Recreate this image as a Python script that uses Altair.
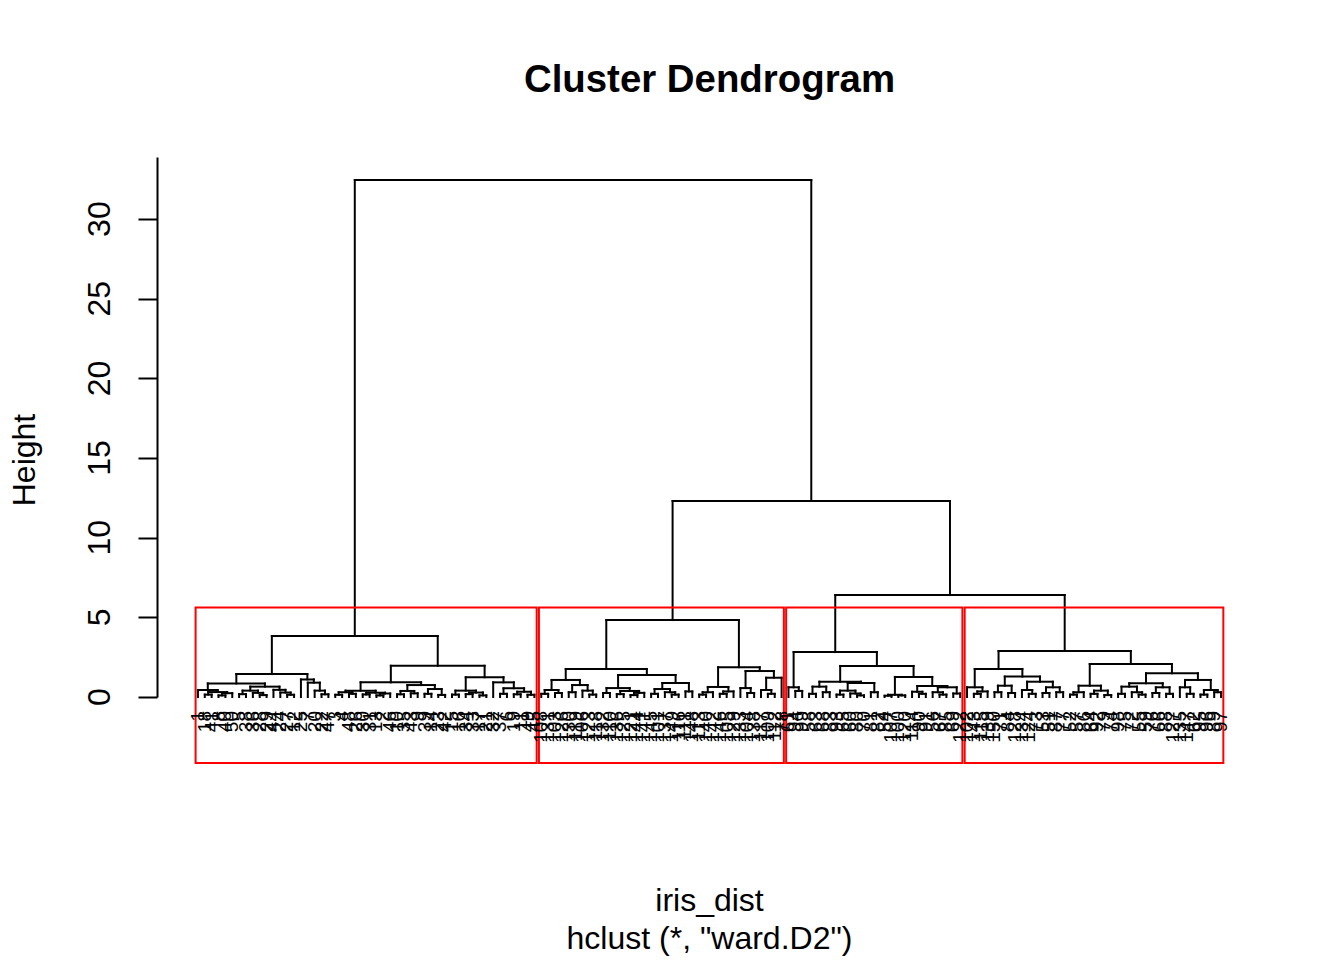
import altair as alt
import pandas as pd

# ---------------- data ----------------
# Each cluster subtree in a compact "(left,right):height" notation.
# Leaves are the left-to-right leaf positions 1..150.
tree_cluster1 = (
    "(("
    "((1,((2,3):0.15,((4,5):0.1,6):0.24):0.31):0.44,"
    "(((7,8):0.18,(9,(10,11):0.12):0.26):0.40,(12,(13,(14,15):0.14):0.28):0.45):0.65):0.85,"
    "(16,(17,(18,(19,20):0.17):0.4):0.9):1.1"
    "):1.44,"
    "(("
    "(((21,22):0.14,(23,24):0.2):0.3,((25,26):0.16,((27,28):0.1,29):0.22):0.27):0.40,"
    "(((30,31):0.17,(32,33):0.23):0.38,((34,35):0.2,(36,37):0.13):0.5):0.75"
    "):0.92,("
    "((38,39):0.15,((40,41):0.18,(42,43):0.1):0.28):0.40,"
    "(44,((45,46):0.2,((47,48):0.17,(49,50):0.14):0.33):0.55):0.92"
    "):1.24"
    "):1.96"
    "):3.83"
)
tree_cluster2 = (
    "((("
    "((51,52):0.2,(53,54):0.25):0.44,"
    "((55,56):0.3,(57,(58,59):0.15):0.4):0.75"
    "):1.07,("
    "((60,61):0.25,((62,63):0.18,((64,65):0.12,66):0.26):0.38):0.56,"
    "(((67,68):0.2,(69,(70,71):0.15):0.3):0.5,(72,73):0.35):0.88"
    "):1.38"
    "):1.76,("
    "(((74,75):0.15,76):0.3,((77,78):0.2,79):0.35):0.63,"
    "((80,(81,82):0.25):0.56,((83,(84,85):0.2):0.44,86):1.21):1.63"
    "):1.87"
    "):4.83"
)
tree_cluster3 = (
    "((87,(88,89):0.38):0.61,("
    "(((90,91):0.2,(92,93):0.3):0.65,(((94,95):0.15,(96,(97,98):0.1):0.22):0.4,(99,100):0.3):0.88):0.96,"
    "(((101,102):0.08,(103,104):0.1):0.14,((105,(106,107):0.2):0.33,((108,(109,110):0.15):0.3,(111,112):0.22):0.61):0.69):1.26"
    "):1.95):2.82"
)
tree_cluster4 = (
    "(("
    "(113,((114,115):0.2,116):0.35):0.61,("
    "((117,118):0.3,(119,120):0.25):0.71,"
    "((121,(122,123):0.2):0.44,((124,125):0.25,(126,127):0.3):0.61):0.96"
    "):1.28):1.76,("
    "(((128,129):0.15,130):0.3,((131,132):0.2,(133,134):0.12):0.4):0.71,("
    "(((135,136):0.2,(137,(138,139):0.15):0.3):0.65,((140,141):0.25,(142,143):0.2):0.61):0.86,"
    "((144,(145,146):0.2):0.61,((147,148):0.15,(149,150):0.3):0.44):1.07"
    "):1.49):2.07):2.89"
)
# heights of the three top merges: (c3,c4), (c2,(c3,c4)), root
upper_merge_heights = [6.40, 12.30, 32.45]

cluster_sizes = [50, 36, 26, 38]

labels_cluster1 = [1, 18, 41, 8, 40, 50, 5, 38, 36, 28, 29, 44, 24, 27, 12, 25, 7, 20, 22, 47,
                   3, 4, 48, 26, 30, 31, 13, 2, 46, 10, 35, 43, 9, 39, 14, 23, 42, 15, 16, 34,
                   33, 17, 21, 32, 37, 6, 19, 11, 49, 45]
labels_cluster2 = [108, 131, 103, 126, 130, 119, 106, 123, 118, 132, 110, 136, 125, 121, 144,
                   141, 145, 101, 137, 149, 116, 111, 148, 113, 140, 142, 146, 105, 129, 133,
                   104, 138, 117, 109, 112, 78]
labels_cluster3 = [61, 94, 99, 58, 63, 68, 83, 93, 65, 60, 80, 70, 81, 82, 54, 107, 100, 120,
                   114, 90, 91, 56, 67, 85, 69, 122]
labels_cluster4 = [102, 143, 115, 139, 150, 71, 84, 128, 134, 124, 73, 53, 51, 87, 77, 52, 57,
                   86, 64, 92, 79, 74, 98, 75, 72, 55, 59, 76, 66, 88, 127, 135, 147, 62, 95,
                   96, 89, 97]

y_tick_values = [0, 5, 10, 15, 20, 25, 30]
y_axis_top = 33.9
y_plot_bottom = -4.14

title_text = "Cluster Dendrogram"
xlab_text = "iris_dist"
sub_text = 'hclust (*, "ward.D2")'
ylab_text = "Height"

# ---------------- tree parsing and layout ----------------
full_tree = ("(" + tree_cluster1 + ",(" + tree_cluster2 + ",(" + tree_cluster3 + "," +
             tree_cluster4 + "):%.2f):%.2f):%.2f" % tuple(upper_merge_heights))


def parse(s):
    s = s.replace(" ", "")
    pos = 0

    def node():
        nonlocal pos
        if s[pos] == "(":
            pos += 1
            a = node()
            assert s[pos] == ","
            pos += 1
            b = node()
            assert s[pos] == ")"
            pos += 1
            assert s[pos] == ":"
            pos += 1
            j = pos
            while pos < len(s) and (s[pos].isdigit() or s[pos] == "."):
                pos += 1
            return (a, b, float(s[j:pos]))
        j = pos
        while pos < len(s) and s[pos].isdigit():
            pos += 1
        return int(s[j:pos])

    t = node()
    assert pos == len(s)
    return t


tree = parse(full_tree)

segments = []
heights = []
order = []


def layout(n):
    if isinstance(n, int):
        order.append(n)
        return float(n), 0.0
    a, b, h = n
    xa, ya = layout(a)
    xb, yb = layout(b)
    heights.append(h)
    segments.append(dict(x=xa, x2=xa, y=ya, y2=h))
    segments.append(dict(x=xb, x2=xb, y=yb, y2=h))
    segments.append(dict(x=xa, x2=xb, y=h, y2=h))
    return (xa + xb) / 2.0, h


layout(tree)
assert order == list(range(1, 151))

leaf_labels = labels_cluster1 + labels_cluster2 + labels_cluster3 + labels_cluster4
assert len(leaf_labels) == 150 and sorted(leaf_labels) == list(range(1, 151))

seg_df = pd.DataFrame(segments)
leaf_df = pd.DataFrame({"pos": list(range(1, 151)), "label": [str(v) for v in leaf_labels]})

# rect.hclust style boxes
hs = sorted(heights, reverse=True)
rect_top = (hs[2] + hs[3]) / 2.0
rows = []
cum = 0
for size in cluster_sizes:
    rows.append(dict(x=cum + 0.66, x2=cum + size + 0.33, y=y_plot_bottom, y2=rect_top))
    cum += size
rect_df = pd.DataFrame(rows)

tick_df = pd.DataFrame({"v": y_tick_values})

# ---------------- chart ----------------
FONT = "Liberation Sans"
n = 150
xs = alt.Scale(domain=[1 - 0.04 * (n - 1), n + 0.04 * (n - 1)], nice=False, zero=False)
ys = alt.Scale(domain=[0, y_axis_top], nice=False, zero=False)
yaxis = alt.Axis(values=y_tick_values, labels=False, title=None, tickSize=19, tickWidth=2,
                 domainWidth=2, tickColor="black", domainColor="black", grid=False)

W, H = 1105, 540

tree_layer = alt.Chart(seg_df).mark_rule(color="black", strokeWidth=2, strokeCap="square").encode(
    x=alt.X("x:Q", scale=xs, axis=None),
    x2="x2:Q",
    y=alt.Y("y:Q", scale=ys, axis=yaxis),
    y2="y2:Q",
)

rect_layer = alt.Chart(rect_df).mark_rect(fillOpacity=0, stroke="#FF0000", strokeWidth=2).encode(
    x=alt.X("x:Q", scale=xs, axis=None),
    x2="x2:Q",
    y=alt.Y("y:Q", scale=ys, axis=yaxis),
    y2="y2:Q",
)

leaf_layer = alt.Chart(leaf_df).mark_text(
    angle=270, align="right", baseline="middle", fontSize=19, font=FONT, color="black"
).encode(
    x=alt.X("pos:Q", scale=xs, axis=None),
    y=alt.value(554),
    text="label:N",
)

tick_label_layer = alt.Chart(tick_df).mark_text(
    angle=270, align="center", baseline="alphabetic", fontSize=32, font=FONT, color="black"
).encode(
    y=alt.Y("v:Q", scale=ys, axis=yaxis),
    x=alt.value(-47),
    text=alt.Text("v:Q", format="d"),
)


def label(txt, x, y, size, weight="normal", angle=0):
    return alt.Chart(pd.DataFrame({"t": [txt]})).mark_text(
        align="center", baseline="alphabetic", fontSize=size, font=FONT,
        fontWeight=weight, angle=angle, color="black"
    ).encode(x=alt.value(x), y=alt.value(y), text="t:N")


title_layer = label(title_text, W / 2, -65, 38.4, weight="bold")
xlab_layer = label(xlab_text, W / 2, 754, 32)
sub_layer = label(sub_text, W / 2, 792, 32)
ylab_layer = label(ylab_text, -122, 303, 32, angle=270)

chart = alt.layer(
    tree_layer, rect_layer, leaf_layer, tick_label_layer,
    title_layer, xlab_layer, sub_layer, ylab_layer
).properties(
    width=W, height=H,
    autosize=alt.AutoSizeParams(type="none"),
    padding={"left": 149, "top": 149, "right": 60, "bottom": 259},
    background="white",
).configure_view(stroke=None)

chart.save("out.html", embed_options={"renderer": "svg", "actions": False})
